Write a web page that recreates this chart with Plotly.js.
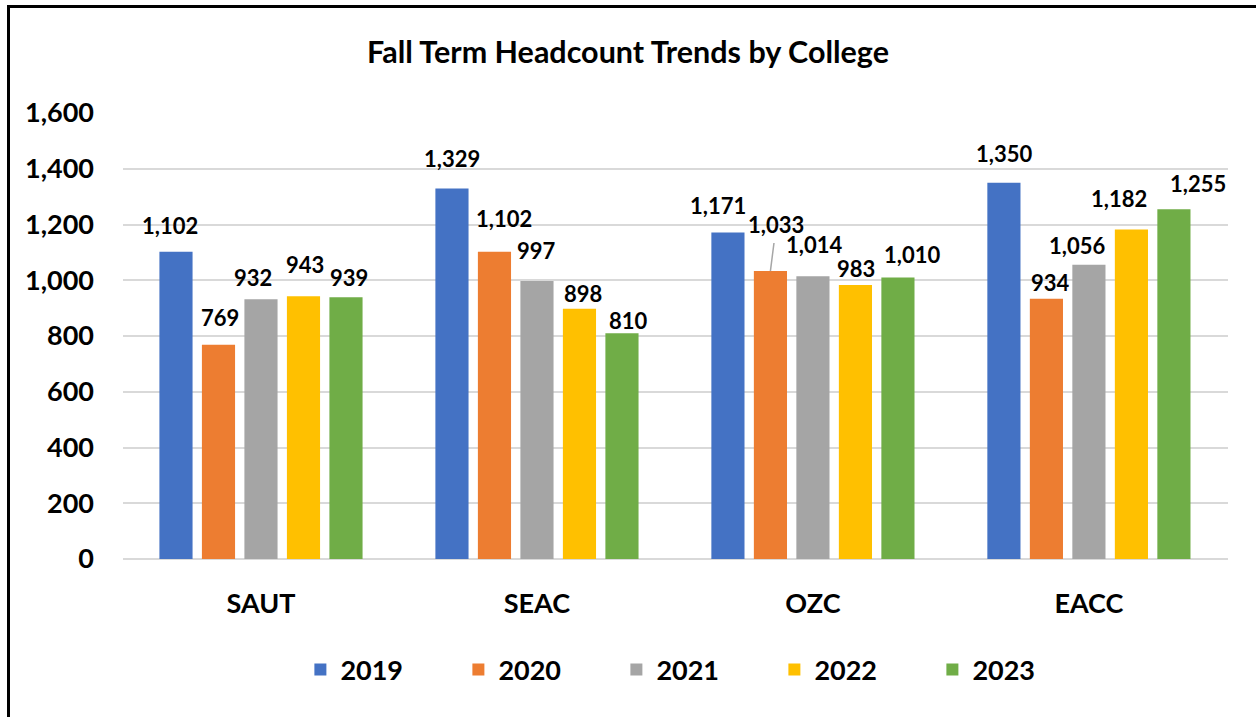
<!DOCTYPE html>
<html>
<head>
<meta charset="utf-8">
<script src="https://cdn.plot.ly/plotly-3.0.1.min.js"></script>
<style>
  html, body { margin: 0; padding: 0; background: #fff; }
  #wrap { position: relative; width: 1256px; height: 717px; overflow: hidden; }
  #chart { width: 1256px; height: 717px; }
  #frame { position: absolute; left: 7px; top: 5px; width: 1400px; height: 900px;
           border: 3px solid #000; pointer-events: none; box-sizing: border-box; }
</style>
</head>
<body>
<div id="wrap">
  <div id="chart"></div>
  <div id="frame"></div>
</div>
<script>
const colleges = ['SAUT', 'SEAC', 'OZC', 'EACC'];
const years = ['2019', '2020', '2021', '2022', '2023'];
const v2019 = [1102, 1329, 1171, 1350];
const v2020 = [769, 1102, 1033, 934];
const v2021 = [932, 997, 1014, 1056];
const v2022 = [943, 898, 983, 1182];
const v2023 = [939, 810, 1010, 1255];
const yTicks = [0, 200, 400, 600, 800, 1000, 1200, 1400, 1600];

const series = [v2019, v2020, v2021, v2022, v2023];
const colors = ['#4472C4', '#ED7D31', '#A5A5A5', '#FFC000', '#70AD47'];
const FONT = 'Lato, "Open Sans", sans-serif';
const fmt = v => v.toLocaleString('en-US');

// Geometry (layout settings only)
const W = 1256, H = 717;
const M = { l: 123, r: 28, t: 113, b: 158 };
const BARGAP = 0.23, BARGROUPGAP = 0.22;
const plotW = W - M.l - M.r;
const slotPx = (1 - BARGAP) * plotW / colleges.length / series.length;
const slotShift = s => (s - (series.length - 1) / 2) * slotPx;

// Hand-placed data-label nudges of the original (px; per series, per college)
const labelDx = [
  [-6, 0, -10, 0],
  [2, 10, 6, 4],
  [-8, 0, 1, -12],
  [1, 3, 1, -12],
  [3, 6, 14, 24]
];
const labelGap = [
  [17, 21, 18, 20],
  [18, 24, 47, 7],
  [12, 21, 22, 10],
  [22, 6, 7, 22],
  [10, 3, 13, 16]
];
// label with a leader line (series index, college index)
const leader = { s: 1, c: 2 };

const barTraces = series.map((vals, i) => ({
  type: 'bar',
  name: years[i],
  x: colleges,
  y: vals,
  marker: { color: colors[i] },
  hoverinfo: 'x+y+name'
}));

const annotations = [];
series.forEach((vals, s) => {
  vals.forEach((v, c) => {
    const base = {
      x: colleges[c], y: v, xref: 'x', yref: 'y',
      text: '<b>' + fmt(v) + '</b>',
      font: { family: FONT, size: 22, color: '#000' }
    };
    if (s === leader.s && c === leader.c) {
      annotations.push(Object.assign(base, {
        xshift: slotShift(s),
        showarrow: true, arrowhead: 0, arrowwidth: 1.5, arrowcolor: '#A6A6A6',
        ax: labelDx[s][c], ay: -labelGap[s][c], startstandoff: 4
      }));
    } else {
      annotations.push(Object.assign(base, {
        xshift: slotShift(s) + labelDx[s][c],
        yshift: labelGap[s][c] - 6,
        yanchor: 'bottom',
        showarrow: false
      }));
    }
  });
});

const layout = {
  width: W,
  height: H,
  margin: M,
  paper_bgcolor: '#fff',
  plot_bgcolor: '#fff',
  font: { family: FONT, color: '#000', weight: 'bold' },
  title: {
    text: '<b>Fall Term Headcount Trends by College</b>',
    font: { family: FONT, size: 30.5, color: '#000' },
    x: 0.5, xref: 'container', xanchor: 'center',
    y: 1 - 52 / H, yref: 'container', yanchor: 'middle'
  },
  barmode: 'group',
  bargap: BARGAP,
  bargroupgap: BARGROUPGAP,
  annotations: annotations,
  xaxis: {
    type: 'category',
    showgrid: false,
    showline: false,
    zeroline: false,
    ticks: '',
    ticklabelstandoff: 26,
    tickfont: { family: FONT, size: 27, color: '#000', weight: 'bold' }
  },
  yaxis: {
    range: [0, 1600],
    tickvals: yTicks,
    tickformat: ',',
    showgrid: true,
    gridcolor: '#D9D9D9',
    gridwidth: 2,
    zeroline: true,
    zerolinecolor: '#D9D9D9',
    zerolinewidth: 2,
    showline: false,
    ticks: '',
    ticklabelstandoff: 28,
    tickfont: { family: FONT, size: 27, color: '#000', weight: 'bold' }
  },
  showlegend: true,
  legend: {
    orientation: 'h',
    x: 0.518, xanchor: 'center',
    y: 1 - 670 / H, yref: 'container', yanchor: 'middle',
    entrywidth: 113,
    font: { family: FONT, size: 27, color: '#000', weight: 'bold' },
    itemclick: false
  }
};

Plotly.newPlot('chart', barTraces, layout, { displayModeBar: false, staticPlot: true });
</script>
</body>
</html>
